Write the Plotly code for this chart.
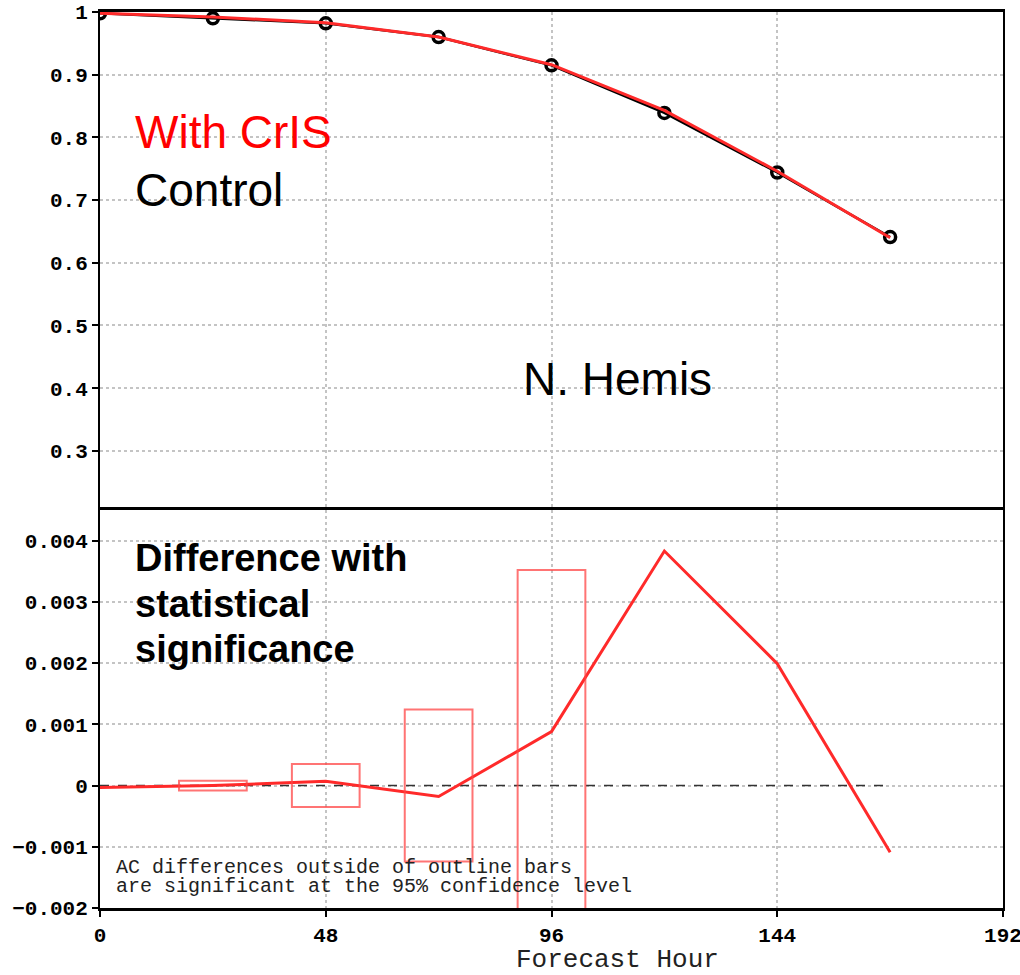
import plotly.graph_objects as go

# ---- data ----
hours = [0, 24, 48, 72, 96, 120, 144, 168]
control_ac = [0.998, 0.990, 0.982, 0.960, 0.915, 0.839, 0.744, 0.641]
cris_ac = [0.998, 0.992, 0.983, 0.960, 0.916, 0.843, 0.746, 0.640]
diff_ac = [-0.00003, 0.00000, 0.00007, -0.00018, 0.00088, 0.00383, 0.00199, -0.00109]

box_hours = [24, 48, 72, 96]
box_halfheight = [0.00008, 0.00035, 0.00124, 0.00352]
box_halfwidth = 7.2

top_ticks = [0.3, 0.4, 0.5, 0.6, 0.7, 0.8, 0.9, 1.0]
top_ticklabels = ["0.3", "0.4", "0.5", "0.6", "0.7", "0.8", "0.9", "1"]
bot_ticks = [-0.002, -0.001, 0, 0.001, 0.002, 0.003, 0.004]
bot_ticklabels = ["\u22120.002", "\u22120.001", "0", "0.001", "0.002", "0.003", "0.004"]
x_ticks = [0, 48, 96, 144, 192]

RED = "#ff2a2a"
BOXRED = "rgba(255,70,70,0.75)"
TICKFONT = dict(family="Liberation Mono", size=21, color="black", weight="bold")
GRID = dict(showgrid=True, gridcolor="#c4c4c4", griddash="dot", gridwidth=1.5)

split = (908 - 510) / 896.0

fig = go.Figure()

# top panel
fig.add_trace(go.Scatter(x=hours, y=control_ac, mode="lines+markers",
                         line=dict(color="black", width=2.5),
                         marker=dict(symbol="circle-open", size=11, color="black",
                                     line=dict(width=3.5, color="black")),
                         xaxis="x", yaxis="y", showlegend=False))
fig.add_trace(go.Scatter(x=hours, y=cris_ac, mode="lines",
                         line=dict(color=RED, width=3),
                         xaxis="x", yaxis="y", showlegend=False))

# bottom panel: zero reference line
fig.add_trace(go.Scatter(x=[hours[0], hours[-1]], y=[0, 0], mode="lines",
                         line=dict(color="#333333", width=1.5, dash="dash"),
                         xaxis="x2", yaxis="y2", showlegend=False))
fig.add_trace(go.Scatter(x=hours, y=diff_ac, mode="lines",
                         line=dict(color=RED, width=3),
                         xaxis="x2", yaxis="y2", showlegend=False))

shapes = []
for h, hh in zip(box_hours, box_halfheight):
    shapes.append(dict(type="rect", xref="x2", yref="y2",
                       x0=h - box_halfwidth, x1=h + box_halfwidth,
                       y0=-hh, y1=hh, line=dict(color=BOXRED, width=2),
                       fillcolor="rgba(0,0,0,0)", layer="above"))

annotations = [
    dict(text="With CrIS", x=7.0, y=0.8094, xref="x", yref="y", xanchor="left",
         yanchor="middle", showarrow=False,
         font=dict(family="Liberation Sans", size=46, color="#ff0000")),
    dict(text="Control", x=7.0, y=0.7161, xref="x", yref="y", xanchor="left",
         yanchor="middle", showarrow=False,
         font=dict(family="Liberation Sans", size=46, color="black")),
    dict(text="N. Hemis", x=89.5, y=0.4139, xref="x", yref="y", xanchor="left",
         yanchor="middle", showarrow=False,
         font=dict(family="Liberation Sans", size=46, color="black")),
    dict(text="Difference with", x=7.0, y=0.003711, xref="x2", yref="y2", xanchor="left",
         yanchor="middle", showarrow=False,
         font=dict(family="Liberation Sans", size=38, color="black", weight="bold")),
    dict(text="statistical", x=7.0, y=0.002961, xref="x2", yref="y2", xanchor="left",
         yanchor="middle", showarrow=False,
         font=dict(family="Liberation Sans", size=38, color="black", weight="bold")),
    dict(text="significance", x=7.0, y=0.002227, xref="x2", yref="y2", xanchor="left",
         yanchor="middle", showarrow=False,
         font=dict(family="Liberation Sans", size=38, color="black", weight="bold")),
    dict(text="AC differences outside of outline bars", x=3.0, y=-0.001338,
         xref="x2", yref="y2", xanchor="left", yanchor="middle", showarrow=False,
         font=dict(family="Liberation Mono", size=20, color="#222222")),
    dict(text="are significant at the 95% confidence level", x=3.0, y=-0.001655,
         xref="x2", yref="y2", xanchor="left", yanchor="middle", showarrow=False,
         font=dict(family="Liberation Mono", size=20, color="#222222")),
    dict(text="Forecast Hour", x=110.1, y=-0.0575, xref="x2", yref="paper",
         xanchor="center", yanchor="middle", showarrow=False,
         font=dict(family="Liberation Mono", size=26, color="#222222")),
]

fig.update_layout(
    width=1020, height=975,
    margin=dict(l=100, r=17, t=12, b=67, autoexpand=False),
    paper_bgcolor="white", plot_bgcolor="white",
    shapes=shapes, annotations=annotations,
    xaxis=dict(domain=[0, 1], range=[0, 192], anchor="y", side="top", tickvals=x_ticks,
               showticklabels=False, ticks="", showline=True, linecolor="black",
               linewidth=2.5, mirror=False, zeroline=False, automargin=False, **GRID),
    yaxis=dict(domain=[split, 1], range=[0.2057, 1.0], anchor="x",
               tickvals=top_ticks, ticktext=top_ticklabels, ticks="outside",
               ticklen=6, tickwidth=2, tickcolor="black", tickfont=TICKFONT,
               ticklabeloverflow="allow",
               showline=True, linecolor="black", linewidth=2, mirror=True,
               zeroline=False, automargin=False, **GRID),
    xaxis2=dict(domain=[0, 1], range=[0, 192], anchor="y2", tickvals=x_ticks,
                ticktext=[str(v) for v in x_ticks], ticks="outside", ticklen=6,
                tickwidth=2, tickcolor="black", tickfont=TICKFONT,
                ticklabeloverflow="allow",
                showline=True, linecolor="black", linewidth=2.5, mirror=True,
                zeroline=False, automargin=False, **GRID),
    yaxis2=dict(domain=[0, split], range=[-0.002, 0.0045], anchor="x2",
                tickvals=bot_ticks, ticktext=bot_ticklabels, ticks="outside",
                ticklen=6, tickwidth=2, tickcolor="black", tickfont=TICKFONT,
                ticklabeloverflow="allow",
                showline=True, linecolor="black", linewidth=2, mirror=True,
                zeroline=False, automargin=False, **GRID),
)

fig.write_html("out.html", config={"displayModeBar": False},
               post_script="document.body.style.margin='0px';")
